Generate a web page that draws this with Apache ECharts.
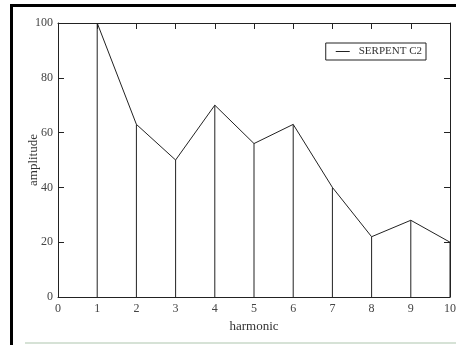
<!DOCTYPE html>
<html>
<head>
<meta charset="utf-8">
<script src="https://cdn.jsdelivr.net/npm/echarts@6/dist/echarts.min.js"></script>
<style>
  html, body { margin: 0; padding: 0; background: #fff; }
  #main { width: 456px; height: 345px; }
</style>
</head>
<body>
<div id="main"></div>
<script>
  // harmonic number vs amplitude
  const harmonics = [1, 2, 3, 4, 5, 6, 7, 8, 9, 10];
  const amplitudes = [100, 63, 50, 70, 56, 63, 40, 22, 28, 20];
  const seriesName = "SERPENT C2";

  const points = harmonics.map((h, i) => [h, amplitudes[i]]);
  const ink = "#222";
  const font = "Liberation Serif";

  // fresh objects for every axis
  let frameLine = () => ({ show: true, onZero: false, lineStyle: { color: ink, width: 1 } });
  let inTicks = () => ({ show: true, inside: true, length: 6, lineStyle: { color: ink, width: 1 } });

  let chart = echarts.init(document.getElementById("main"));
  let option = {
    backgroundColor: "#fff",
    animation: false,
    textStyle: { fontFamily: font },
    grid: { left: 58, right: 6, top: 23, bottom: 48, outerBoundsMode: "none", containLabel: false },
    legend: {
      data: [seriesName],
      right: 30,
      top: 43,
      padding: [3, 4, 3, 10],
      borderColor: ink,
      borderWidth: 1,
      borderRadius: 0,
      icon: "rect",
      itemWidth: 14,
      itemHeight: 1,
      itemGap: 0,
      textStyle: { fontFamily: font, fontSize: 11, color: "#333", padding: [0, 0, 0, 4] },
    },
    xAxis: [
      {
        type: "value",
        min: 0,
        max: 10,
        interval: 1,
        name: "harmonic",
        nameLocation: "middle",
        nameGap: 23,
        nameTextStyle: { fontFamily: font, fontSize: 13, color: "#333" },
        axisLine: frameLine(),
        axisTick: { show: false },
        axisLabel: { color: "#444", fontSize: 12, fontFamily: font, margin: 6 },
        splitLine: { show: false },
      },
      {
        type: "value",
        position: "top",
        min: 0,
        max: 10,
        interval: 1,
        axisLine: frameLine(),
        axisTick: inTicks(),
        axisLabel: { show: false },
        splitLine: { show: false },
      },
    ],
    yAxis: [
      {
        type: "value",
        min: 0,
        max: 100,
        interval: 20,
        name: "amplitude",
        nameLocation: "middle",
        nameGap: 18,
        nameMoveOverlap: false,
        nameRotate: 90,
        nameTextStyle: { fontFamily: font, fontSize: 13, color: "#333" },
        axisLine: frameLine(),
        axisTick: inTicks(),
        axisLabel: { color: "#444", fontSize: 12, fontFamily: font, margin: 5 },
        splitLine: { show: false },
      },
      {
        type: "value",
        position: "right",
        min: 0,
        max: 100,
        interval: 20,
        axisLine: frameLine(),
        axisTick: inTicks(),
        axisLabel: { show: false },
        splitLine: { show: false },
      },
    ],
    series: [
      {
        name: "stems",
        type: "bar",
        data: points,
        barWidth: 1,
        itemStyle: { color: ink },
        silent: true,
      },
      {
        name: seriesName,
        type: "line",
        data: points,
        symbol: "none",
        lineStyle: { color: ink, width: 1 },
        itemStyle: { color: ink },
      },
    ],
    graphic: [
      // scanned page frame
      { type: "rect", shape: { x: 10, y: 4, width: 3, height: 341 }, style: { fill: "#000" } },
      { type: "rect", shape: { x: 10, y: 4, width: 446, height: 3 }, style: { fill: "#000" } },
      { type: "line", shape: { x1: 25, y1: 343, x2: 456, y2: 343 }, style: { stroke: "#d6e2d6", lineWidth: 2 } },
    ],
  };
  chart.setOption(option);
</script>
</body>
</html>
